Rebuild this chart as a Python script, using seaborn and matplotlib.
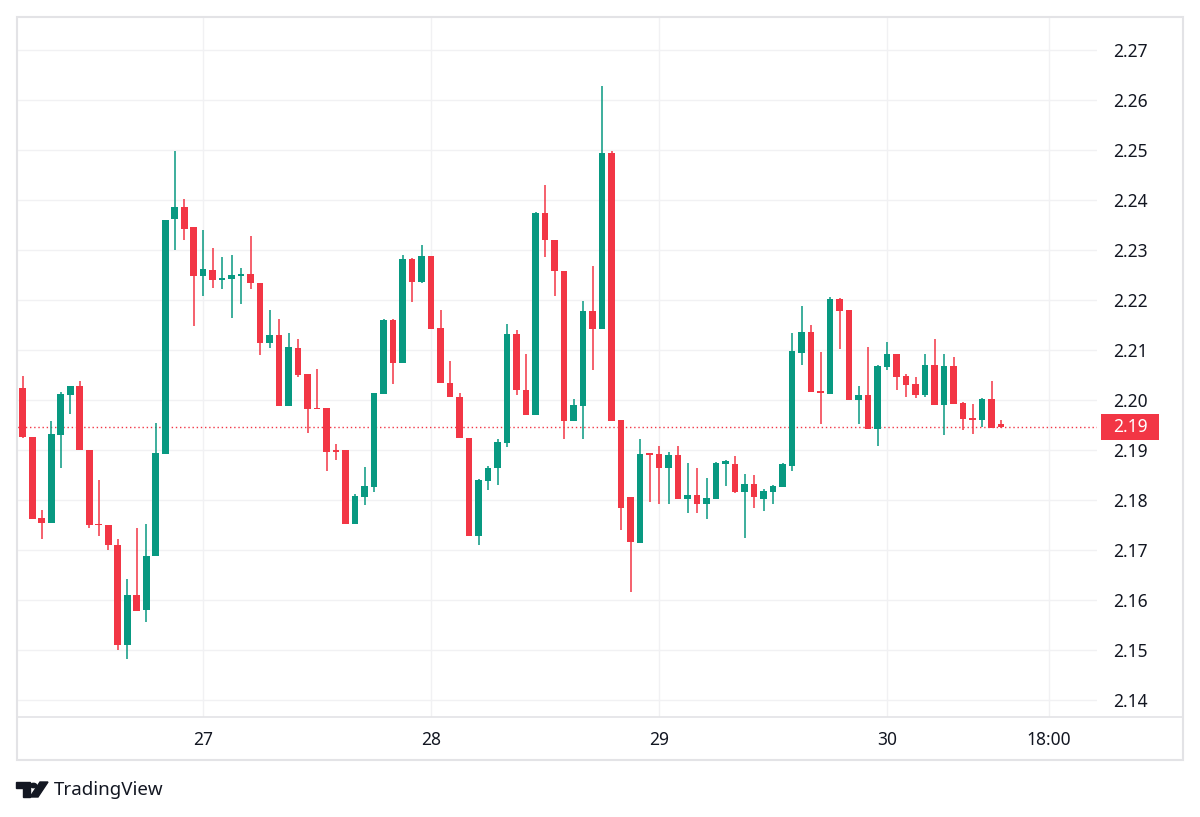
import numpy as np
import pandas as pd
import matplotlib
matplotlib.use("Agg")
import matplotlib.pyplot as plt
import matplotlib.transforms as mtransforms
from matplotlib.patches import Rectangle, Polygon, Circle
import seaborn as sns

# hourly candles, 26th 05:00 -> 30th 12:00
opens = [2.2025, 2.1927, 2.1765, 2.1755, 2.1930, 2.2011, 2.2028, 2.1900, 2.1753, 2.1751,
         2.1711, 2.1510, 2.1610, 2.1580, 2.1688, 2.1893, 2.2362, 2.2387, 2.2345, 2.2248,
         2.2261, 2.2241, 2.2243, 2.2248, 2.2252, 2.2235, 2.2115, 2.2131, 2.1989, 2.2105,
         2.2053, 2.1985, 2.1985, 2.1899, 2.1899, 2.1753, 2.1807, 2.1827, 2.2013, 2.2160,
         2.2075, 2.2283, 2.2237, 2.2289, 2.2143, 2.2035, 2.2007, 2.1925, 2.1728, 2.1839,
         2.1865, 2.1915, 2.2133, 2.2021, 2.1971, 2.2375, 2.2321, 2.2259, 2.1958, 2.1988,
         2.2178, 2.2143, 2.2495, 2.1960, 2.1807, 2.1715, 2.1894, 2.1893, 2.1865, 2.1891,
         2.1803, 2.1810, 2.1792, 2.1803, 2.1873, 2.1872, 2.1817, 2.1832, 2.1803, 2.1817,
         2.1827, 2.1869, 2.2095, 2.2137, 2.2018, 2.2013, 2.2203, 2.2180, 2.2001, 2.2010,
         2.1943, 2.2067, 2.2092, 2.2048, 2.2033, 2.2010, 2.2071, 2.1990, 2.2068, 2.1995,
         2.1965, 2.1961, 2.2003, 2.1953]
highs = [2.2048, 2.1927, 2.1780, 2.1958, 2.2016, 2.2028, 2.2038, 2.1900, 2.1840, 2.1751,
         2.1723, 2.1643, 2.1745, 2.1753, 2.1955, 2.2361, 2.2499, 2.2403, 2.2345, 2.2341,
         2.2305, 2.2287, 2.2291, 2.2265, 2.2329, 2.2235, 2.2180, 2.2162, 2.2135, 2.2122,
         2.2053, 2.2063, 2.1985, 2.1913, 2.1901, 2.1812, 2.1867, 2.2015, 2.2162, 2.2162,
         2.2291, 2.2285, 2.2311, 2.2289, 2.2180, 2.2078, 2.2015, 2.1925, 2.1842, 2.1868,
         2.1923, 2.2153, 2.2141, 2.2092, 2.2377, 2.2430, 2.2321, 2.2259, 2.2002, 2.2199,
         2.2269, 2.2628, 2.2499, 2.1960, 2.1807, 2.1923, 2.1895, 2.1908, 2.1897, 2.1908,
         2.1875, 2.1865, 2.1845, 2.1877, 2.1881, 2.1888, 2.1853, 2.1850, 2.1823, 2.1831,
         2.1875, 2.2135, 2.2188, 2.2150, 2.2097, 2.2207, 2.2205, 2.2180, 2.2028, 2.2107,
         2.2070, 2.2117, 2.2092, 2.2053, 2.2047, 2.2092, 2.2122, 2.2092, 2.2087, 2.1997,
         2.1993, 2.2005, 2.2039, 2.1961]
lows = [2.1925, 2.1763, 2.1723, 2.1755, 2.1865, 2.1973, 2.1900, 2.1745, 2.1728, 2.1700,
        2.1500, 2.1482, 2.1578, 2.1557, 2.1688, 2.1893, 2.2300, 2.2320, 2.2148, 2.2208,
        2.2225, 2.2223, 2.2165, 2.2193, 2.2223, 2.2090, 2.2105, 2.1989, 2.1989, 2.2047,
        2.1935, 2.1982, 2.1859, 2.1880, 2.1753, 2.1753, 2.1791, 2.1817, 2.2012, 2.2033,
        2.2075, 2.2197, 2.2235, 2.2143, 2.2035, 2.2007, 2.1925, 2.1728, 2.1710, 2.1820,
        2.1830, 2.1907, 2.2010, 2.1971, 2.1971, 2.2287, 2.2208, 2.1922, 2.1958, 2.1922,
        2.2061, 2.2143, 2.1958, 2.1740, 2.1617, 2.1715, 2.1797, 2.1793, 2.1793, 2.1803,
        2.1775, 2.1775, 2.1763, 2.1803, 2.1828, 2.1815, 2.1725, 2.1785, 2.1779, 2.1793,
        2.1827, 2.1859, 2.2071, 2.2017, 2.1953, 2.2013, 2.2102, 2.2001, 2.1952, 2.1943,
        2.1908, 2.2061, 2.2021, 2.2007, 2.2005, 2.2007, 2.1990, 2.1930, 2.1993, 2.1940,
        2.1932, 2.1947, 2.1945, 2.1945]
closes = [2.1927, 2.1763, 2.1755, 2.1932, 2.2013, 2.2028, 2.1900, 2.1750, 2.1750, 2.1710,
          2.1510, 2.1610, 2.1578, 2.1688, 2.1895, 2.2361, 2.2387, 2.2343, 2.2248, 2.2261,
          2.2241, 2.2245, 2.2250, 2.2252, 2.2235, 2.2115, 2.2131, 2.1989, 2.2105, 2.2051,
          2.1983, 2.1982, 2.1897, 2.1896, 2.1753, 2.1808, 2.1828, 2.2015, 2.2160, 2.2075,
          2.2283, 2.2237, 2.2289, 2.2143, 2.2035, 2.2007, 2.1925, 2.1728, 2.1840, 2.1865,
          2.1917, 2.2133, 2.2021, 2.1971, 2.2375, 2.2320, 2.2259, 2.1958, 2.1990, 2.2178,
          2.2143, 2.2495, 2.1958, 2.1785, 2.1717, 2.1893, 2.1891, 2.1865, 2.1891, 2.1803,
          2.1810, 2.1792, 2.1805, 2.1875, 2.1879, 2.1816, 2.1832, 2.1807, 2.1818, 2.1829,
          2.1872, 2.2097, 2.2137, 2.2017, 2.2014, 2.2203, 2.2179, 2.2001, 2.2010, 2.1943,
          2.2068, 2.2092, 2.2047, 2.2031, 2.2011, 2.2071, 2.1990, 2.2068, 2.1993, 2.1963,
          2.1961, 2.2003, 2.1945, 2.1946]

day_ticks = [19, 43, 67, 91, 108]
day_labels = ["27", "28", "29", "30", "18:00"]
price_ticks = [2.14, 2.15, 2.16, 2.17, 2.18, 2.19, 2.20, 2.21, 2.22, 2.23, 2.24, 2.25, 2.26, 2.27]
last_price = 2.1947

UP = "#089981"
DOWN = "#F23645"
GRID = "#f1f1f3"
TEXT = "#131722"
FRAME = "#e3e3e6"

df = pd.DataFrame({"open": opens, "high": highs, "low": lows, "close": closes})
df["idx"] = np.arange(len(df))
df["color"] = np.where(df["close"] >= df["open"], UP, DOWN)
df["bottom"] = df[["open", "close"]].min(axis=1)
df["height"] = (df["close"] - df["open"]).abs().clip(lower=0.00025)

sns.set_style("white")
plt.rcParams["font.family"] = ["Noto Sans", "DejaVu Sans"]

W, H = 1200, 817
fig = plt.figure(figsize=(12, 8.17), dpi=100, facecolor="white")
ax = fig.add_axes([17 / W, 1 - 717 / H, 1080 / W, 700 / H])
ax.set_facecolor("white")

# grid
for p in price_ticks:
    ax.axhline(p, color=GRID, lw=1, zorder=0)
for d in day_ticks:
    ax.axvline(d, color=GRID, lw=1, zorder=0)

# candles
ax.vlines(df["idx"], df["low"], df["high"], colors=df["color"], lw=1.1, zorder=2)
ax.bar(df["idx"], df["height"], bottom=df["bottom"], width=0.7,
       color=df["color"], linewidth=0, zorder=3)

# last price line
ax.axhline(last_price, color=DOWN, lw=1, ls=(0, (1, 2)), zorder=1)

ax.set_xlim(-0.6, 113.1)
ax.set_ylim(2.1366, 2.2766)

for s in ax.spines.values():
    s.set_visible(False)

ax.yaxis.tick_right()
ax.set_yticks(price_ticks)
ax.set_yticklabels([f"{p:.2f}" for p in price_ticks])
ax.set_xticks(day_ticks)
ax.set_xticklabels(day_labels)
ax.tick_params(axis="y", length=0, pad=11.5, labelsize=12.5, labelcolor=TEXT)
ax.tick_params(axis="x", length=0, pad=10, labelsize=12.5, labelcolor=TEXT)
for lbl in ax.get_xticklabels()[:4]:
    lbl.set_fontweight("bold")
for lbl in ax.get_yticklabels():
    lbl.set_horizontalalignment("left")

# last price tag on the price scale
trans = mtransforms.blended_transform_factory(ax.transAxes, ax.transData)
tag_h = 26 * (ax.get_ylim()[1] - ax.get_ylim()[0]) / 700
ax.add_patch(Rectangle((1 + 4 / 1080, last_price - tag_h / 2), 58 / 1080, tag_h,
                       transform=trans, facecolor=DOWN, edgecolor="none",
                       clip_on=False, zorder=5))
ax.text(1 + 33 / 1080, last_price, "2.19", transform=trans, ha="center", va="center",
        color="white", fontsize=12.5, fontweight="bold", zorder=6, clip_on=False)

# outer frame + time scale separator
def px(x, y):
    return (x / W, 1 - y / H)

fig.add_artist(Rectangle(px(17, 760), 1166 / W, 743 / H, transform=fig.transFigure,
                         fill=False, edgecolor=FRAME, lw=1.5))
fig.add_artist(plt.Line2D([17 / W, 1183 / W], [1 - 717 / H, 1 - 717 / H],
                          transform=fig.transFigure, color=FRAME, lw=1.2))

# TradingView logo
logo = "#131722"
fig.add_artist(Polygon([px(16, 782), px(30, 782), px(30, 797), px(23, 797),
                        px(23, 788), px(16, 788)], closed=True,
                       transform=fig.transFigure, color=logo))
fig.add_artist(Circle(px(33.5, 785.5), 3.2 / W, transform=fig.transFigure, color=logo))
fig.add_artist(Polygon([px(40, 782), px(48, 782), px(38, 797), px(30, 797)], closed=True,
                       transform=fig.transFigure, color=logo))
fig.text(54 / W, 1 - 790 / H, "TradingView", ha="left", va="center",
         fontsize=13.5, color=logo)

plt.savefig("out.png", dpi=100, facecolor="white")
plt.close()
